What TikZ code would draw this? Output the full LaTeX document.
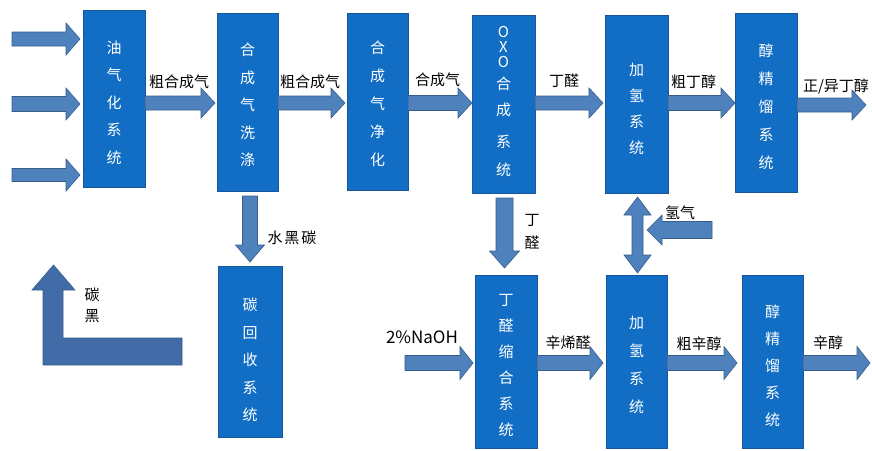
\documentclass[tikz,border=0pt]{standalone}
\usepackage{fontspec}
\setmainfont{Noto Sans CJK SC}
\usetikzlibrary{calc}
\definecolor{boxblue}{RGB}{18,110,196}
\definecolor{boxline}{RGB}{25,85,155}
\definecolor{arrfill}{RGB}{79,129,189}
\definecolor{arrline}{RGB}{56,93,138}
\definecolor{larrfill}{RGB}{66,108,168}
\tikzset{
  procbox/.style={draw=boxline, line width=0.6pt, fill=boxblue, inner sep=0pt, outer sep=0pt},
  boxtxt/.style={text=white, align=center, inner sep=0pt, font=\fontsize{15}{#1}\selectfont},
  lbl/.style={text=black, inner sep=0pt, align=center, font=\fontsize{15}{#1}\selectfont},
  lbl/.default=17,
  arrowsty/.style={fill=arrfill, draw=arrline, line width=0.6pt, line join=miter}
}
% single block arrow: #2 from, #3 to, #4 shaft half width, #5 head half width, #6 head length
\newcommand\blockarrow[6][]{%
  \path ($(#3)!#6!(#2)$) coordinate (BAh);
  \filldraw[arrowsty,#1] ($(#2)!#4!90:(#3)$) -- ($(BAh)!#4!90:(#3)$) -- ($(BAh)!#5!90:(#3)$) -- (#3)
    -- ($(BAh)!#5!-90:(#3)$) -- ($(BAh)!#4!-90:(#3)$) -- ($(#2)!#4!-90:(#3)$) -- cycle;}
% double-headed block arrow
\newcommand\dblarrow[6][]{%
  \path ($(#2)!#6!(#3)$) coordinate (DAa);
  \path ($(#3)!#6!(#2)$) coordinate (DAb);
  \filldraw[arrowsty,#1] (#2) -- ($(DAa)!#5!90:(#3)$) -- ($(DAa)!#4!90:(#3)$) -- ($(DAb)!#4!90:(#3)$)
    -- ($(DAb)!#5!90:(#3)$) -- (#3) -- ($(DAb)!#5!-90:(#3)$) -- ($(DAb)!#4!-90:(#3)$)
    -- ($(DAa)!#4!-90:(#3)$) -- ($(DAa)!#5!-90:(#3)$) -- cycle;}
\begin{document}
\begin{tikzpicture}[x=1pt,y=-1pt]
\useasboundingbox (0,0) rectangle (872,450);
\fill[white] (0,0) rectangle (872,450);

% ---------- process boxes ----------
\node[procbox, minimum width=62pt, minimum height=177pt] (b1) at (114,98.5) {};
\node[procbox, minimum width=61pt, minimum height=178pt] (b2) at (247.5,102) {};
\node[procbox, minimum width=61pt, minimum height=177pt] (b3) at (377.5,101.5) {};
\node[procbox, minimum width=63pt, minimum height=178pt] (b4) at (503.5,104) {};
\node[procbox, minimum width=63pt, minimum height=178pt] (b5) at (636.5,104) {};
\node[procbox, minimum width=62pt, minimum height=179pt] (b6) at (766,102.5) {};
\node[procbox, minimum width=64pt, minimum height=171pt] (b7) at (250,351.5) {};
\node[procbox, minimum width=62pt, minimum height=173pt] (b8) at (506,361.5) {};
\node[procbox, minimum width=61pt, minimum height=173pt] (b9) at (636.5,361.5) {};
\node[procbox, minimum width=61pt, minimum height=173pt] (b10) at (772.5,361.5) {};

% ---------- box texts ----------
\node[boxtxt=27.5] (t1) at ($(b1.center)+(0,4)$) {油\\气\\化\\系\\统};
\node[boxtxt=27.5] (t2) at ($(b2.center)+(0,3)$) {合\\成\\气\\洗\\涤};
\node[boxtxt=28] (t3) at ($(b3.center)+(0,2)$) {合\\成\\气\\净\\化};
\node[boxtxt=15] (t4) at ($(b4.center)+(0,-2.5)$) {O\\X\\O\\[7pt]合\\[11pt]成\\[17pt]系\\[13pt]统};
\node[boxtxt=26] (t5) at ($(b5.center)+(0,4.5)$) {加\\氢\\系\\统};
\node[boxtxt=28] (t6) at ($(b6.center)+(0,4)$) {醇\\精\\馏\\系\\统};
\node[boxtxt=27.5] (t7) at ($(b7.center)+(0,8.5)$) {碳\\回\\收\\系\\统};
\node[boxtxt=26] (t8) at ($(b8.center)+(0,3.5)$) {丁\\醛\\缩\\合\\系\\统};
\node[boxtxt=28] (t9) at ($(b9.center)+(0,3.5)$) {加\\氢\\系\\统};
\node[boxtxt=27] (t10) at ($(b10.center)+(0,4.5)$) {醇\\精\\馏\\系\\统};

% ---------- reference coordinates ----------
\coordinate (r1) at (0,103);
\coordinate (r2) at (0,105);
\coordinate (r3) at (0,363);
\coordinate (i1) at (12,39);
\coordinate (i2) at (12,104);
\coordinate (i3) at (12,175);
\coordinate (i1e) at ($(b1.west|-i1)+(-3,0)$);
\coordinate (i2e) at ($(b1.west|-i2)+(-3,0)$);
\coordinate (i3e) at ($(b1.west|-i3)+(-3,0)$);
\coordinate (a12s) at (b1.east|-r1);
\coordinate (a12e) at ($(b2.west|-r1)+(-2,0)$);
\coordinate (a23s) at (b2.east|-r1);
\coordinate (a23e) at ($(b3.west|-r1)+(-2,0)$);
\coordinate (a34s) at (b3.east|-r1);
\coordinate (a34e) at (b4.west|-r1);
\coordinate (a45s) at (b4.east|-r1);
\coordinate (a45e) at ($(b5.west|-r1)+(-2,0)$);
\coordinate (a56s) at (b5.east|-r1);
\coordinate (a56e) at (b6.west|-r1);
\coordinate (a6os) at (b6.east|-r2);
\coordinate (a6oe) at (866,105);
\coordinate (d1) at (250,0);
\coordinate (a27s) at ($(b2.south-|d1)+(0,5)$);
\coordinate (a27e) at ($(b7.north-|d1)+(0,-4)$);
\coordinate (d2) at (504.5,0);
\coordinate (a48s) at ($(b4.south-|d2)+(0,5)$);
\coordinate (a48e) at ($(b8.north-|d2)+(0,-7)$);
\coordinate (d3) at (637.5,0);
\coordinate (a59s) at ($(b5.south-|d3)+(0,4)$);
\coordinate (a59e) at ($(b9.north-|d3)+(0,-2)$);
\coordinate (h2s) at (712,230);
\coordinate (h2e) at (647,230);
\coordinate (nas) at (405,363);
\coordinate (nae) at ($(b8.west|-r3)+(-2,0)$);
\coordinate (a89s) at (b8.east|-r3);
\coordinate (a89e) at ($(b9.west|-r3)+(-3,0)$);
\coordinate (a910s) at (b9.east|-r3);
\coordinate (a910e) at ($(b10.west|-r3)+(-5,0)$);
\coordinate (a10os) at (b10.east|-r3);
\coordinate (a10oe) at (870,363);

% ---------- block arrows ----------
\blockarrow{i1}{i1e}{7pt}{16pt}{14pt}
\blockarrow{i2}{i2e}{7.5pt}{16pt}{14pt}
\blockarrow{i3}{i3e}{6.5pt}{16pt}{14pt}
\blockarrow{a12s}{a12e}{7pt}{15pt}{14pt}
\blockarrow{a23s}{a23e}{7pt}{15pt}{14pt}
\blockarrow{a34s}{a34e}{7.5pt}{15pt}{14pt}
\blockarrow{a45s}{a45e}{7pt}{15pt}{14pt}
\blockarrow{a56s}{a56e}{7.5pt}{15pt}{14pt}
\blockarrow{a6os}{a6oe}{7pt}{15pt}{14pt}
\blockarrow{a27s}{a27e}{7.5pt}{14.5pt}{17pt}
\blockarrow{a48s}{a48e}{8.5pt}{15pt}{17pt}
\dblarrow{a59s}{a59e}{5.5pt}{13.5pt}{18pt}
\blockarrow{h2s}{h2e}{8.5pt}{15pt}{15pt}
\blockarrow{nas}{nae}{7.5pt}{16.5pt}{13pt}
\blockarrow{a89s}{a89e}{7.5pt}{16.5pt}{13pt}
\blockarrow{a910s}{a910e}{7.5pt}{16.5pt}{13pt}
\blockarrow{a10os}{a10oe}{7.5pt}{16.5pt}{13pt}

% L-shaped carbon black arrow
\filldraw[arrowsty, fill=larrfill] (43,365) -- (182,365) -- (182,338) -- (63,338) -- (63,290)
  -- (75,290) -- (53.5,265) -- (32,290) -- (43,290) -- cycle;

% ---------- labels ----------
\node[lbl] (l1) at (179,82) {粗合成气};
\node[lbl] (l2) at (310,82) {粗合成气};
\node[lbl] (l3) at (437.5,80) {合成气};
\node[lbl] (l4) at (564,81) {丁醛};
\node[lbl] (l5) at (693.5,82) {粗丁醇};
\node[lbl] (l6) at (836,87) {正/异丁醇};
\node[lbl] (l7) at (292,238) {水\hspace{2pt}黑\hspace{2pt}碳};
\node[lbl=21] (l8) at (92,305.5) {碳\\黑};
\node[lbl=23] (l9) at (532,231.5) {丁\\醛};
\node[lbl, font=\fontsize{17}{19}\selectfont] (l10) at (422,337) {2\%NaOH};
\node[lbl] (l11) at (568,343) {辛烯醛};
\node[lbl] (l12) at (680,213) {氢气};
\node[lbl] (l13) at (699,344) {粗辛醇};
\node[lbl] (l14) at (828,343) {辛醇};
\end{tikzpicture}
\end{document}
